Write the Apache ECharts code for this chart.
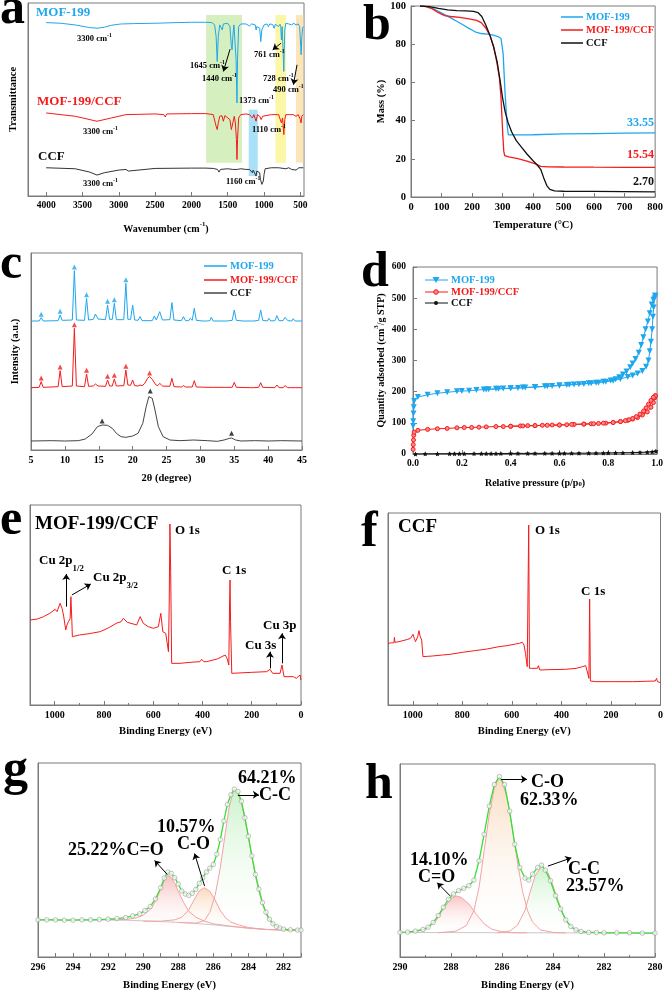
<!DOCTYPE html>
<html><head><meta charset="utf-8">
<script src="https://cdn.jsdelivr.net/npm/echarts@6/dist/echarts.min.js"></script>
<style>html,body{margin:0;padding:0;background:#fff}#c{width:666px;height:992px}</style>
</head><body><div id="c"></div>
<script>
// ---------- DATA ----------
// (a) FTIR  [wavenumber cm-1, transmittance a.u.]
const ftirMOF = [[4000,522],[3800,520],[3600,515],[3400,507],[3300,505],[3200,508],[3100,514],[3000,517],[2960,518],[2945,512],[2930,518],[2800,519],[2500,520],[2200,522],[2000,523],[1800,523],[1720,522],[1680,515],[1660,480],[1645,405],[1630,480],[1610,515],[1590,518],[1575,500],[1560,518],[1500,520],[1470,510],[1450,450],[1440,440],[1430,480],[1415,515],[1400,510],[1385,410],[1373,280],[1365,410],[1350,510],[1320,518],[1250,518],[1200,512],[1170,518],[1120,515],[1110,500],[1100,510],[1060,505],[1045,465],[1030,500],[1000,515],[960,518],[940,510],[920,518],[880,516],[860,505],[845,517],[820,518],[800,510],[780,517],[770,510],[761,470],[750,510],[740,505],[728,375],[715,500],[700,520],[660,518],[640,518],[620,515],[590,520],[560,515],[530,518],[510,510],[495,450],[490,425],[480,480],[470,505],[460,510]];
const ftirComp = [[4000,250],[3600,240],[3300,225],[3100,235],[2900,245],[2500,247],[2380,245],[2360,238],[2340,247],[2000,248],[1800,248],[1700,245],[1660,210],[1645,200],[1630,220],[1610,240],[1580,242],[1560,225],[1540,242],[1470,230],[1450,200],[1440,195],[1430,220],[1410,240],[1395,220],[1380,170],[1373,110],[1365,170],[1350,235],[1320,245],[1250,247],[1200,245],[1160,235],[1140,245],[1110,225],[1090,245],[1060,240],[1040,230],[1020,240],[1000,245],[900,245],[800,245],[780,242],[761,220],[745,235],[728,185],[715,230],[700,245],[650,245],[600,245],[560,240],[530,245],[500,230],[490,220],[480,240],[460,245]];
const ftirCCF = [[4000,85],[3600,82],[3400,72],[3300,63],[3200,70],[3000,78],[2900,80],[2870,75],[2850,80],[2500,83],[2000,84],[1800,84],[1700,83],[1640,80],[1620,72],[1600,80],[1500,82],[1430,80],[1370,80],[1320,82],[1250,80],[1200,80],[1160,70],[1150,78],[1110,60],[1100,75],[1060,70],[1050,50],[1030,35],[1010,45],[1000,65],[985,82],[900,85],[895,80],[800,85],[700,82],[660,85],[620,80],[600,85],[560,78],[520,85],[460,85]];
const ftirBands = [[1798,1303,100,545],[1211,1087,60,260],[844,697,100,545],[560,459,100,545]];
const ftirTicks = [500,1000,1500,2000,2500,3000,3500,4000];

// (b) TGA [temperature °C, mass %]
const tgaMOF = [[30,100],[50,99.8],[70,98.8],[90,97.2],[110,95.5],[130,93.8],[150,92],[170,90.2],[190,88.3],[210,86.5],[230,85.6],[250,85.3],[270,84.8],[285,84],[295,83],[300,82],[302,75],[305,65],[308,55],[312,45],[316,36],[319,32.6],[330,32.5],[400,32.6],[500,33],[600,33.2],[700,33.4],[800,33.55]];
const tgaComp = [[30,100],[50,99.7],[70,98.5],[90,96.5],[110,95],[130,94.5],[160,94],[190,93.3],[215,92.5],[230,91.3],[245,88.5],[260,84],[272,78],[282,70],[290,62],[295,52],[298,42],[301,32],[304,24],[307,21.7],[320,21],[350,20.1],[380,18.8],[410,17.2],[425,16],[450,15.8],[500,15.7],[600,15.6],[700,15.55],[800,15.54]];
const tgaCCF = [[30,100],[60,99.7],[90,98.8],[120,98],[150,97.6],[180,97.4],[205,97.2],[220,96.5],[232,94.5],[245,90],[258,85],[270,79],[282,71],[292,61],[300,52],[308,45],[318,39],[330,34],[345,29.5],[360,26.5],[380,22.5],[400,19],[415,16.5],[425,14.5],[435,10],[445,6],[455,4],[470,3.2],[500,3],[600,2.9],[700,2.8],[800,2.7]];
const tgaResidue = [33.55, 15.54, 2.70];

// (c) XRD [2theta, intensity a.u.]
const xrdMOF = [[5,387],[6.2,387],[6.5,397],[6.8,387],[9.0,388],[9.3,405],[9.6,389],[11.1,390],[11.4,538],[11.7,390],[12.9,389],[13.2,455],[13.5,390],[14.2,392],[14.5,408],[14.9,393],[16.0,391],[16.3,435],[16.6,392],[17.0,392],[17.3,440],[17.6,391],[18.7,391],[19.0,500],[19.3,392],[19.7,392],[20.0,435],[20.3,390],[20.8,389],[21.1,400],[21.4,388],[22.9,388],[23.2,402],[23.5,390],[23.7,391],[24.0,415],[24.4,390],[25.5,391],[25.8,442],[26.1,390],[27.2,388],[27.5,400],[27.8,388],[28.3,388],[28.5,395],[28.8,389],[29.1,425],[29.4,389],[30.4,387],[30.6,392],[30.9,387],[31.4,388],[31.6,398],[31.9,387],[33.5,387],[33.7,392],[33.9,387],[34.7,389],[35.0,420],[35.3,389],[36.3,387],[36.5,392],[36.7,387],[37.4,387],[37.6,393],[37.9,387],[38.6,389],[38.9,420],[39.2,389],[39.9,387],[40.1,395],[40.4,387],[41.0,388],[41.3,403],[41.6,388],[42.2,388],[42.5,398],[42.9,388],[43.5,387],[43.7,394],[44.0,387],[45,387]];
const xrdComp = [[5,187],[6.2,188],[6.5,205],[6.8,188],[9.0,190],[9.3,238],[9.6,190],[11.1,192],[11.4,365],[11.7,192],[12.9,190],[13.2,228],[13.5,191],[14.2,192],[14.5,198],[14.9,192],[16.0,191],[16.3,210],[16.6,192],[17.0,192],[17.3,213],[17.6,192],[18.7,193],[19.0,240],[19.3,195],[19.7,194],[20.0,210],[20.3,193],[20.8,192],[21.1,195],[21.4,193],[21.8,200],[22.2,215],[22.5,220],[22.9,212],[23.4,196],[23.7,193],[24.0,200],[24.4,192],[25.5,191],[25.8,215],[26.1,190],[27.2,189],[27.5,193],[27.8,189],[28.8,189],[29.1,208],[29.4,189],[31.4,188],[31.6,193],[31.9,188],[34.7,188],[35.0,203],[35.3,188],[37.4,187],[37.6,190],[37.9,187],[38.6,188],[38.9,202],[39.2,188],[41.0,187],[41.3,195],[41.6,187],[42.2,187],[42.5,193],[42.9,187],[43.5,187],[43.7,192],[44.0,187],[45,187]];
const xrdCCF = [[5,27],[8,28],[10,27],[12,28],[13,33],[14,48],[14.8,70],[15.5,75],[16.3,74],[17,65],[17.6,50],[18.3,40],[19,38],[20,42],[20.8,50],[21.5,80],[22,130],[22.4,160],[22.6,165],[22.9,155],[23.3,120],[23.8,70],[24.5,40],[25.5,30],[27,28],[29,30],[31,28],[32.5,26],[33.5,30],[34.3,35],[34.6,36],[35.2,30],[36,27],[38,28],[40,27],[42,28],[45,27]];
const xrdMarkMOF = [[6.5,407],[9.3,416],[11.4,549],[13.2,466],[16.3,446],[17.3,451],[19.0,511]];
const xrdMarkComp = [[6.5,216],[9.3,249],[11.4,376],[13.2,239],[16.3,221],[17.3,224],[19.0,251],[22.5,231]];
const xrdMarkCCF = [[15.5,87],[22.6,177],[34.6,50]];

// (d) N2 isotherms [p/p0, cm3/g STP]
const betMOFads = [[0.0005,90],[0.001,105],[0.002,130],[0.003,150],[0.005,170],[0.02,183],[0.06,190],[0.1,195],[0.14,198],[0.18,201],[0.2,202],[0.23,203],[0.26,205],[0.29,207],[0.31,208],[0.34,209],[0.37,210],[0.4,211],[0.43,212],[0.46,213],[0.5,215],[0.54,217],[0.57,218],[0.6,220],[0.63,221],[0.66,223],[0.7,225],[0.73,227],[0.76,229],[0.79,232],[0.82,235],[0.85,241],[0.88,247],[0.9,252],[0.92,258],[0.94,266],[0.955,280],[0.965,300],[0.97,330],[0.975,360],[0.98,400],[0.983,440],[0.986,470],[0.99,500],[0.992,508]];
const betMOFdes = [[0.992,508],[0.985,495],[0.978,480],[0.97,452],[0.962,425],[0.953,400],[0.944,375],[0.935,350],[0.925,325],[0.912,305],[0.9,290],[0.89,278],[0.875,265],[0.86,255],[0.845,246],[0.83,240],[0.81,236],[0.78,232],[0.75,229],[0.72,227],[0.68,224],[0.64,222],[0.6,220],[0.55,217],[0.5,215],[0.45,213],[0.4,211],[0.35,209],[0.3,207]];
const betCompAds = [[0.0005,15],[0.001,30],[0.002,45],[0.003,60],[0.005,70],[0.02,76],[0.06,79],[0.1,81],[0.14,82],[0.18,84],[0.21,85],[0.24,85],[0.27,86],[0.3,87],[0.34,88],[0.37,88],[0.4,89],[0.44,90],[0.47,91],[0.5,91],[0.53,92],[0.57,93],[0.6,93],[0.63,94],[0.66,95],[0.7,96],[0.73,97],[0.76,98],[0.79,99],[0.82,101],[0.85,104],[0.88,108],[0.9,112],[0.92,117],[0.94,125],[0.96,135],[0.975,150],[0.985,165],[0.99,180],[0.993,187]];
const betCompDes = [[0.993,187],[0.985,182],[0.975,172],[0.965,160],[0.955,148],[0.945,138],[0.93,128],[0.915,120],[0.9,114],[0.885,110],[0.87,107],[0.85,104],[0.82,101],[0.78,99],[0.74,97],[0.7,96],[0.65,95],[0.6,93],[0.55,92],[0.5,91],[0.45,90],[0.4,89]];
const betCCF = [[0.01,0],[0.05,0.5],[0.1,0.8],[0.15,1],[0.17,1],[0.19,1],[0.21,1.2],[0.25,1.3],[0.28,1.4],[0.3,1.5],[0.32,1.5],[0.34,1.6],[0.36,1.7],[0.4,1.8],[0.43,1.9],[0.47,2],[0.5,2],[0.54,2.1],[0.57,2.2],[0.6,2.3],[0.62,2.4],[0.65,2.5],[0.68,2.6],[0.72,2.8],[0.75,3],[0.78,3.2],[0.8,3.4],[0.83,3.7],[0.86,4],[0.9,4.5],[0.93,5],[0.96,6],[0.98,7],[0.995,9]];

// (e) XPS survey MOF-199/CCF [BE eV, counts a.u.]
const xpsComp = [[1100,255],[1070,258],[1045,265],[1020,275],[998,287],[990,280],[978,305],[970,290],[964,270],[955,225],[950,240],[944,250],[937,260],[934,325],[930,250],[928,205],[900,210],[860,214],[815,220],[780,232],[750,245],[730,250],[721,260],[705,248],[690,245],[667,240],[653,265],[640,245],[620,235],[599,230],[579,235],[569,275],[561,220],[549,215],[538,160],[535,300],[532,543],[529,400],[525,125],[491,125],[450,128],[410,130],[403,137],[395,130],[383,130],[340,138],[308,150],[300,140],[293,120],[290,300],[288,375],[286,250],[281,95],[200,98],[139,100],[126,107],[115,95],[85,95],[77,120],[69,85],[31,85],[24,90],[19,80],[4,90],[0,75]];
// (f) XPS survey CCF
const xpsCCF = [[1100,185],[1090,186],[1076,187],[1074,203],[1072,188],[1056,190],[1040,193],[1020,197],[1009,200],[999,212],[994,200],[989,190],[980,205],[975,223],[970,205],[964,195],[959,145],[940,146],[921,147],[880,150],[850,152],[800,158],[750,163],[700,168],[652,175],[620,178],[585,183],[570,185],[558,188],[551,180],[545,155],[538,115],[535,110],[532,540],[529,110],[520,110],[497,110],[493,118],[487,105],[450,106],[383,107],[340,110],[320,114],[302,118],[292,90],[289,80],[286,318],[283,72],[278,70],[261,70],[200,70],[113,70],[21,72],[16,80],[12,70],[0,67]];

// (g) C 1s MOF-199/CCF
const gRaw = [[296,112],[295.5,112],[295,112],[294.5,111],[294,111],[293.5,112],[293,112],[292.5,113],[292,114],[291.5,116],[291,119],[290.6,124],[290.2,130],[289.9,140],[289.6,152],[289.3,175],[289,209],[288.8,238],[288.6,256],[288.4,252],[288.2,239],[288,220],[287.8,199],[287.6,190],[287.4,186],[287.2,192],[287,204],[286.8,222],[286.6,239],[286.4,256],[286.2,268],[286,279],[285.8,310],[285.6,354],[285.4,410],[285.2,460],[285,489],[284.8,506],[284.6,499],[284.4,470],[284.2,420],[284,364],[283.8,305],[283.6,249],[283.4,205],[283.2,164],[283,135],[282.8,114],[282.6,100],[282.4,92],[282.2,87],[282,84],[281.6,82],[281.2,81],[281,81]];
const gBg = [[296,112],[291,111],[289,107],[287.5,103],[286,97],[285,92],[284,87],[283,83],[281,80]];
const gCdO = [[292,113],[291,113],[290.4,118],[290,126],[289.6,143],[289.3,168],[289,205],[288.8,230],[288.6,246],[288.4,240],[288.2,222],[288,198],[287.7,165],[287.4,138],[287,120],[286.5,108],[286,100],[285,93],[284,87],[283,83],[281,80]];
const gCO = [[290,108],[289,108],[288.2,112],[287.8,120],[287.4,142],[287.1,172],[286.8,200],[286.5,209],[286.2,198],[285.9,172],[285.6,140],[285.3,118],[285,105],[284.5,96],[284,89],[283,83],[281,80]];
const gCC = [[288,104],[287,102],[286.5,110],[286.2,135],[285.9,185],[285.6,270],[285.3,380],[285.1,450],[284.9,495],[284.8,502],[284.6,495],[284.4,465],[284.2,415],[284,360],[283.8,300],[283.6,245],[283.4,198],[283.2,160],[283,130],[282.8,110],[282.5,95],[282.2,87],[282,84],[281,80]];
const gPct = ['25.22%','10.57%','64.21%'];

// (h) C 1s CCF
const hRaw = [[290,74],[289.7,75],[289.4,78],[289.1,83],[288.9,90],[288.7,104],[288.5,125],[288.3,150],[288.1,174],[287.9,190],[287.7,200],[287.5,207],[287.3,215],[287.1,232],[286.9,290],[286.7,370],[286.5,455],[286.3,520],[286.1,544],[285.9,520],[285.7,440],[285.5,340],[285.3,270],[285.1,238],[284.95,232],[284.8,250],[284.6,270],[284.45,277],[284.3,262],[284.1,230],[283.9,185],[283.7,145],[283.5,112],[283.3,92],[283.1,82],[282.9,77],[282.6,74],[282.3,74],[282,73],[281.5,73],[281,73],[280.5,72],[280,72]];
const hBg = [[290,74],[285,73],[280,72]];
const hCdO = [[290,74],[289.5,76],[289,82],[288.6,108],[288.3,145],[288,176],[287.8,184],[287.6,180],[287.3,160],[287,128],[286.7,100],[286.4,84],[286,76],[285.5,73],[285,73]];
const hCO = [[288.5,73],[287.8,78],[287.4,95],[287.1,140],[286.9,210],[286.7,320],[286.5,430],[286.3,510],[286.15,540],[286,530],[285.8,480],[285.6,390],[285.4,290],[285.2,200],[285,140],[284.8,105],[284.5,82],[284,74],[283.5,73]];
const hCC = [[286.2,73],[285.7,78],[285.4,95],[285.1,140],[284.9,195],[284.7,245],[284.45,274],[284.2,255],[284,215],[283.8,170],[283.6,128],[283.4,100],[283.2,85],[283,78],[282.6,73]];
const hPct = ['14.10%','62.33%','23.57%'];

// ---------- STYLE ----------
const FONT = "'Liberation Serif','Times New Roman',serif";
const AX = '#7a7a7a';
const BLUE = '#1ea7ee', RED = '#f51b1b', BLACK = '#111';

function merge(a,b){for(const k in b){const v=b[k];if(v&&typeof v==='object'&&!Array.isArray(v)&&a[k]&&typeof a[k]==='object'&&!Array.isArray(a[k]))merge(a[k],v);else a[k]=v;}return a;}
function axis(gi,o){return merge({type:'value',gridIndex:gi,nameLocation:'middle',
  nameTextStyle:{fontFamily:FONT,fontWeight:'bold',fontSize:10.5,color:'#000'},
  axisLine:{show:true,onZero:false,lineStyle:{color:AX,width:1}},
  axisTick:{show:true,inside:true,length:4,lineStyle:{color:AX}},
  axisLabel:{show:true,fontFamily:FONT,fontWeight:'bold',fontSize:10,color:'#000',margin:5,formatter:v=>String(v)},
  splitLine:{show:false}},o||{});}
function hiddenY(gi,max,o){return axis(gi,merge({min:0,max:max,axisTick:{show:false},axisLabel:{show:false}},o||{}));}
function grid(l,t,w,h){return {left:l,top:t,width:w,height:h,show:true,borderColor:AX,borderWidth:1};}
function line(gi,data,color,o){return merge({type:'line',xAxisIndex:gi,yAxisIndex:gi,data:data,symbol:'none',showSymbol:false,silent:true,z:3,
  lineStyle:{color:color,width:1},itemStyle:{color:color}},o||{});}
function arrows(list){return {silent:true,symbol:['none','arrow'],symbolSize:6,label:{show:false},
  lineStyle:{color:'#000',width:1,type:'solid'},emphasis:{disabled:true},
  data:list.map(p=>[{coord:p[0]},{coord:p[1]}])};}
function grad(c){return {type:'linear',x:0,y:0,x2:0,y2:1,colorStops:[{offset:0,color:c},{offset:1,color:'rgba(255,255,255,0.05)'}]};}

function rs(size,color){return {
  n:{fontSize:size,fontWeight:'bold',fontFamily:FONT,fill:color,color:color,verticalAlign:'bottom',lineHeight:size+3},
  s:{fontSize:size*0.68,fontWeight:'bold',fontFamily:FONT,fill:color,color:color,verticalAlign:'top',lineHeight:size+3},
  b:{fontSize:size*0.68,fontWeight:'bold',fontFamily:FONT,fill:color,color:color,verticalAlign:'bottom',lineHeight:size+6},
  t:{fontSize:size,fontWeight:'bold',fontFamily:FONT,fill:color,color:color,verticalAlign:'top',lineHeight:size+6}};}
function T(x,y,text,size,color,o){return merge({type:'text',x:x,y:y,silent:true,z:50,
  style:{text:text,fontSize:size,fontWeight:'bold',fontFamily:FONT,fill:color||'#000',align:'left',verticalAlign:'middle',rich:rs(size,color||'#000')}},o||{});}
function L(x1,y1,x2,y2,color,w){return {type:'line',silent:true,z:50,shape:{x1,y1,x2,y2},style:{stroke:color,lineWidth:w||1.5}};}
const cm1 = v => '{n|'+v+' cm}{s|-1}';

// ---------- AXES ----------
const xAxes = [
  axis(0,{min:450,max:4250,inverse:true,name:'{n|Wavenumber (cm}{s|-1}{n|)}',nameGap:25,
    nameTextStyle:{rich:rs(10,'#000')},axisLabel:{fontSize:9.5,customValues:ftirTicks},axisTick:{customValues:ftirTicks}}),
  axis(1,{min:0,max:800,interval:100,name:'Temperature (°C)',nameGap:23,axisLabel:{fontSize:10.5}}),
  axis(2,{min:5,max:45,interval:5,name:'2θ (degree)',nameGap:23}),
  axis(3,{min:0,max:1,interval:0.2,name:'{n|Relative pressure (p/p}{b|0}{n|)}',nameGap:18,
    nameTextStyle:{rich:rs(10,'#000')},axisLabel:{fontSize:9.5,formatter:v=>v.toFixed(1)}}),
  axis(4,{min:0,max:1100,interval:200,inverse:true,name:'Binding Energy (eV)',nameGap:21,
    axisLabel:{showMaxLabel:false},minorTick:{show:true,splitNumber:2,length:2,lineStyle:{color:AX}}}),
  axis(5,{min:0,max:1100,interval:200,inverse:true,name:'Binding Energy (eV)',nameGap:21,
    axisLabel:{showMaxLabel:false},minorTick:{show:true,splitNumber:2,length:2,lineStyle:{color:AX}}}),
  axis(6,{min:281,max:296,interval:1,inverse:true,name:'Binding Energy (eV)',nameGap:23,
    axisLabel:{formatter:v=>(v%2===0?String(v):'')}}),
  axis(7,{min:280,max:290,interval:2,inverse:true,name:'Binding Energy (eV)',nameGap:23,
    minorTick:{show:true,splitNumber:2,length:2,lineStyle:{color:AX}}})
];
const yAxes = [
  hiddenY(0,581,{name:'Transmittance',nameGap:9}),
  axis(1,{min:0,max:100,interval:20,name:'Mass (%)',nameGap:23,axisLabel:{fontSize:10.5}}),
  hiddenY(2,591,{name:'Intensity (a.u.)',nameGap:10}),
  axis(3,{min:0,max:600,interval:100,name:'{n|Quantity adsorbed (cm}{s|3}{n|/g STP)}',nameGap:27,
    nameTextStyle:{rich:rs(10,'#000')},axisLabel:{fontSize:9.5,margin:7}}),
  hiddenY(4,600),
  hiddenY(5,576),
  hiddenY(6,585),
  hiddenY(7,582)
];
const grids = [grid(28,3,276,193),grid(411,6,245,191),grid(31,253,271,197),grid(413,267,245,187),
  grid(30,505,271,200),grid(388,513,273,192),grid(38,763,263,195),grid(400,764,255,194)];

// ---------- SERIES ----------
const bandColors = ['rgba(200,234,170,0.75)','rgba(140,215,245,0.75)','rgba(250,246,150,0.85)','rgba(251,226,170,0.85)'];
const gBase = 80, hBase = 72;
const series = [
  {type:'line',xAxisIndex:0,yAxisIndex:0,data:[],z:1,silent:true,
    markArea:{silent:true,data:ftirBands.map((b,i)=>[{coord:[b[0],b[2]],itemStyle:{color:bandColors[i]}},{coord:[b[1],b[3]]}])}},
  line(0,ftirMOF,BLUE,{markLine:arrows([[[1468,442],[1560,375]],[[766,460],[881,440]],[[546,395],[596,335]]])}),
  line(0,ftirComp,RED),
  line(0,ftirCCF,'#333'),
  line(1,tgaMOF,BLUE,{lineStyle:{width:1.3}}),
  line(1,tgaComp,RED,{lineStyle:{width:1.3}}),
  line(1,tgaCCF,BLACK,{lineStyle:{width:1.3}}),
  line(2,xrdMOF,BLUE),
  line(2,xrdComp,RED),
  line(2,xrdCCF,'#444'),
  {type:'scatter',xAxisIndex:2,yAxisIndex:2,data:xrdMarkMOF,symbol:'triangle',symbolSize:5,itemStyle:{color:BLUE},silent:true,z:4},
  {type:'scatter',xAxisIndex:2,yAxisIndex:2,data:xrdMarkComp,symbol:'triangle',symbolSize:5,itemStyle:{color:RED},silent:true,z:4},
  {type:'scatter',xAxisIndex:2,yAxisIndex:2,data:xrdMarkCCF,symbol:'triangle',symbolSize:5,itemStyle:{color:BLACK},silent:true,z:4},
  line(3,betMOFads,BLUE,{symbol:'triangle',symbolRotate:180,symbolSize:6,showSymbol:true,showAllSymbol:true}),
  line(3,betMOFdes,BLUE,{symbol:'triangle',symbolRotate:180,symbolSize:6,showSymbol:true,showAllSymbol:true}),
  line(3,betCompAds,RED,{symbol:'circle',symbolSize:4,showSymbol:true,showAllSymbol:true,itemStyle:{color:'#ff8a8a',borderColor:RED,borderWidth:1}}),
  line(3,betCompDes,RED,{symbol:'circle',symbolSize:4,showSymbol:true,showAllSymbol:true,itemStyle:{color:'#ff8a8a',borderColor:RED,borderWidth:1}}),
  line(3,betCCF,BLACK,{symbol:'path://M0,-10 L2.9,-4 L9.5,-3.1 L4.7,1.5 L5.9,8.1 L0,5 L-5.9,8.1 L-4.7,1.5 L-9.5,-3.1 L-2.9,-4 Z',symbolSize:5,showSymbol:true,showAllSymbol:true}),
  line(4,xpsComp,RED,{markLine:arrows([[[953,295],[953,393]],[[930,330],[853,363]],[[126,110],[126,160]],[[77,125],[77,215]]])}),
  line(5,xpsCCF,RED),
  // g
  line(6,gBg,'#c9c9c9',{z:2}),
  line(6,gCdO,'#f4a3a3',{z:2,areaStyle:{origin:gBase,color:grad('rgba(238,105,105,0.6)')}}),
  line(6,gCO,'#f4a3a3',{z:2,areaStyle:{origin:gBase,color:grad('rgba(240,165,95,0.6)')}}),
  line(6,gCC,'#f4a3a3',{z:2,areaStyle:{origin:gBase,color:grad('rgba(120,222,120,0.55)')}}),
  line(6,gRaw,'#33e033',{z:3,lineStyle:{width:1.3},
    markLine:arrows([[[284.6,489],[283.4,489]],[[286.5,214],[287.07,312]],[[288.63,249],[289.35,291]]])}),
  {type:'scatter',xAxisIndex:6,yAxisIndex:6,data:gRaw,symbol:'circle',symbolSize:4.5,silent:true,z:4,
    itemStyle:{color:'rgba(255,255,255,0.9)',borderColor:'#9a9a9a',borderWidth:0.8}},
  // h
  line(7,hBg,'#c9c9c9',{z:2}),
  line(7,hCdO,'#f4a3a3',{z:2,areaStyle:{origin:hBase,color:grad('rgba(238,105,105,0.55)')}}),
  line(7,hCO,'#f4a3a3',{z:2,areaStyle:{origin:hBase,color:grad('rgba(240,165,95,0.55)')}}),
  line(7,hCC,'#f4a3a3',{z:2,areaStyle:{origin:hBase,color:grad('rgba(120,222,120,0.55)')}}),
  line(7,hRaw,'#33e033',{z:3,lineStyle:{width:1.3},
    markLine:arrows([[[286.03,536],[285.02,536]],[[288.03,184],[288.54,224]],[[284.2,274],[283.28,299]]])}),
  {type:'scatter',xAxisIndex:7,yAxisIndex:7,data:hRaw,symbol:'circle',symbolSize:4.5,silent:true,z:4,
    itemStyle:{color:'rgba(255,255,255,0.9)',borderColor:'#9a9a9a',borderWidth:0.8}}
];

// ---------- TEXT / LEGENDS ----------
const g = [];
[['a',0,10],['b',363,26],['c',0,265],['d',361,273],['e',0,521],['f',361,533],['g',3,771],['h',365,785]]
  .forEach(p=>g.push(T(p[1],p[2],p[0],50,'#000',{style:{rich:null}})));
// (a)
g.push(T(36,13,'MOF-199',13,BLUE), T(37,102,'MOF-199/CCF',13,RED), T(38,157,'CCF',13,BLACK));
[[77,38,'3300'],[190,65,'1645'],[202,78,'1440'],[239,100,'1373'],[254,54,'761'],[263,78,'728'],[273,89,'490'],
 [83,131,'3300'],[252,129,'1110'],[83,183,'3300'],[226,181,'1160']].forEach(p=>g.push(T(p[0],p[1],cm1(p[2]),8.5,'#000')));
// (b) legend + residues
[[17,'MOF-199',BLUE],[30,'MOF-199/CCF',RED],[43,'CCF',BLACK]].forEach(p=>{g.push(L(561,p[0],583,p[0],p[2]));g.push(T(586,p[0],p[1],10.5,p[2]));});
[[123,BLUE],[155,RED],[182,BLACK]].forEach((p,i)=>g.push(T(654,p[0],tgaResidue[i].toFixed(2),12,p[1],{style:{align:'right'}})));
// (c) legend
[[266,'MOF-199',BLUE],[280,'MOF-199/CCF',RED],[293,'CCF','#444']].forEach(p=>{g.push(L(204,p[0],227,p[0],p[2]));g.push(T(230,p[0],p[1],10.5,p[2]==='#444'?BLACK:p[2]));});
// (d) legend
[[280,'MOF-199',BLUE],[292,'MOF-199/CCF',RED],[303,'CCF',BLACK]].forEach(p=>{g.push(L(425,p[0],448,p[0],p[2],1));g.push(T(451,p[0],p[1],10.5,p[2]));});
g.push({type:'polygon',silent:true,z:51,shape:{points:[[432.5,277],[439.5,277],[436,283]]},style:{fill:BLUE}});
g.push({type:'circle',silent:true,z:51,shape:{cx:436,cy:292,r:2.3},style:{fill:'#ff8a8a',stroke:RED,lineWidth:1}});
g.push({type:'circle',silent:true,z:51,shape:{cx:436,cy:303,r:2},style:{fill:BLACK}});
// (e)
g.push(T(35,524,'MOF-199/CCF',19,'#000'));
g.push(T(175,531,'O 1s',13,'#000'), T(222,571,'C 1s',13,'#000'), T(245,646,'Cu 3s',13,'#000'), T(263,626,'Cu 3p',13,'#000'));
g.push(T(39,564,'{t|Cu 2p}{b|1/2}',13,'#000'), T(93,581,'{t|Cu 2p}{b|3/2}',13,'#000'));
// (f)
g.push(T(398,527,'CCF',19,'#000'), T(535,531,'O 1s',13,'#000'), T(581,592,'C 1s',13,'#000'));
// (g)
g.push(T(238,778,gPct[2],18,'#000'), T(259,795,'C-C',18,'#000'), T(157,827,gPct[1],18,'#000'),
  T(177,844,'C-O',18,'#000'), T(68,850,gPct[0]+'C=O',18,'#000'));
// (h)
g.push(T(531,782,'C-O',18,'#000'), T(520,800,hPct[1],18,'#000'), T(410,860,hPct[0],18,'#000'),
  T(418,877,'C=O',18,'#000'), T(568,869,'C-C',18,'#000'), T(566,886,hPct[2],18,'#000'));

const chart = echarts.init(document.getElementById('c'), null, {renderer:'canvas'});
chart.setOption({animation:false,backgroundColor:'#fff',grid:grids,xAxis:xAxes,yAxis:yAxes,series:series,graphic:{elements:g}});
</script></body></html>
